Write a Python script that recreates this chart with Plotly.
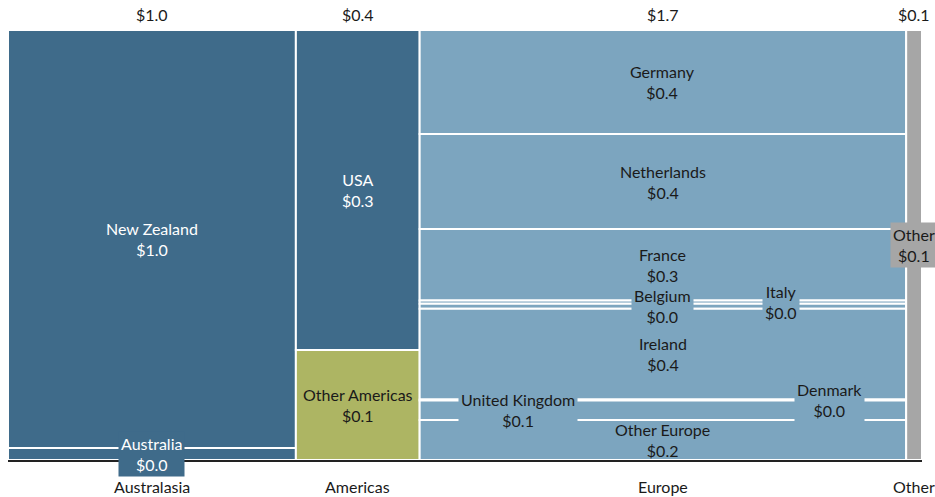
import plotly.graph_objects as go

# Regions (columns) and their segments, values in $ billions
regions = ["Australasia", "Americas", "Europe", "Other"]

australasia_names = ["New Zealand", "Australia"]
australasia_values = [0.972, 0.028]

americas_names = ["USA", "Other Americas"]
americas_values = [0.32, 0.11]

europe_names = ["Germany", "Netherlands", "France", "Italy", "Belgium",
                "Ireland", "Denmark", "United Kingdom", "Other Europe"]
europe_values = [0.409, 0.373, 0.281, 0.013, 0.020, 0.356, 0.004, 0.077, 0.157]

other_names = ["Other"]
other_values = [0.055]

segments = [
    (australasia_names, australasia_values),
    (americas_names, americas_values),
    (europe_names, europe_values),
    (other_names, other_values),
]

# Styling
DARK = "#3f6b8a"
LIGHT = "#7ca5bf"
OLIVE = "#adb563"
GREY = "#a6a6a6"
TEXT = "#1a1a1a"
FONT = "Lato"
FSIZE = 16
W, H = 935, 497
MARGIN = dict(l=8, r=13, t=30, b=37)
PLOT_W = W - MARGIN["l"] - MARGIN["r"]
PLOT_H = H - MARGIN["t"] - MARGIN["b"]
region_color = {"Australasia": DARK, "Americas": DARK, "Europe": LIGHT, "Other": GREY}
segment_color = {"Other Americas": OLIVE}
label_xshift = {"Italy": 118, "United Kingdom": -145, "Denmark": 167}

totals = [sum(v) for _, v in segments]
grand_total = sum(totals)

bar_x, bar_w, bar_base, bar_h, bar_col = [], [], [], [], []
annotations = []
col_centers = []
start = 0.0
for region, (names, values), total in zip(regions, segments, totals):
    center = start + total / 2
    col_centers.append(center)
    col_px = total / grand_total * PLOT_W
    top = 1.0
    for name, val in zip(names, values):
        frac = val / total
        color = segment_color.get(name, region_color[region])
        bar_x.append(center)
        bar_w.append(total)
        bar_base.append(top - frac)
        bar_h.append(frac)
        bar_col.append(color)
        txt_color = "white" if color == DARK else TEXT
        # labels that spill past their segment get a filled box to mask borders
        small = frac * PLOT_H < 30 or col_px < 60
        annotations.append(dict(
            x=center, y=top - frac / 2, xref="x", yref="y",
            text=f"{name}<br>${val:.1f}", showarrow=False,
            xshift=label_xshift.get(name, 0),
            font=dict(family=FONT, size=FSIZE, color=txt_color),
            bgcolor=color if small else "rgba(0,0,0,0)", borderpad=2,
        ))
        top -= frac
    # column total above the bar
    annotations.append(dict(
        x=center, y=1, xref="x", yref="paper", yanchor="middle", yshift=16,
        text=f"${total:.1f}", showarrow=False,
        font=dict(family=FONT, size=FSIZE, color=TEXT),
    ))
    # region name below the axis
    annotations.append(dict(
        x=center, y=0, xref="x", yref="paper", yanchor="middle", yshift=-26,
        text=region, showarrow=False,
        font=dict(family=FONT, size=FSIZE, color=TEXT),
    ))
    start += total

fig = go.Figure(go.Bar(
    x=bar_x, y=bar_h, base=bar_base, width=bar_w,
    marker=dict(color=bar_col, line=dict(color="white", width=2)),
    hoverinfo="skip",
))

fig.update_layout(
    width=W, height=H,
    margin=dict(**MARGIN, autoexpand=False),
    paper_bgcolor="white", plot_bgcolor="white",
    barmode="overlay", showlegend=False,
    annotations=annotations,
    font=dict(family=FONT, size=FSIZE, color=TEXT),
)
fig.update_xaxes(
    range=[0, grand_total], showticklabels=False,
    showgrid=False, zeroline=False, showline=True, linecolor="#222",
    linewidth=2, ticks="", automargin=False,
)
fig.update_yaxes(range=[0, 1], visible=False)

fig.write_html("out.html")
